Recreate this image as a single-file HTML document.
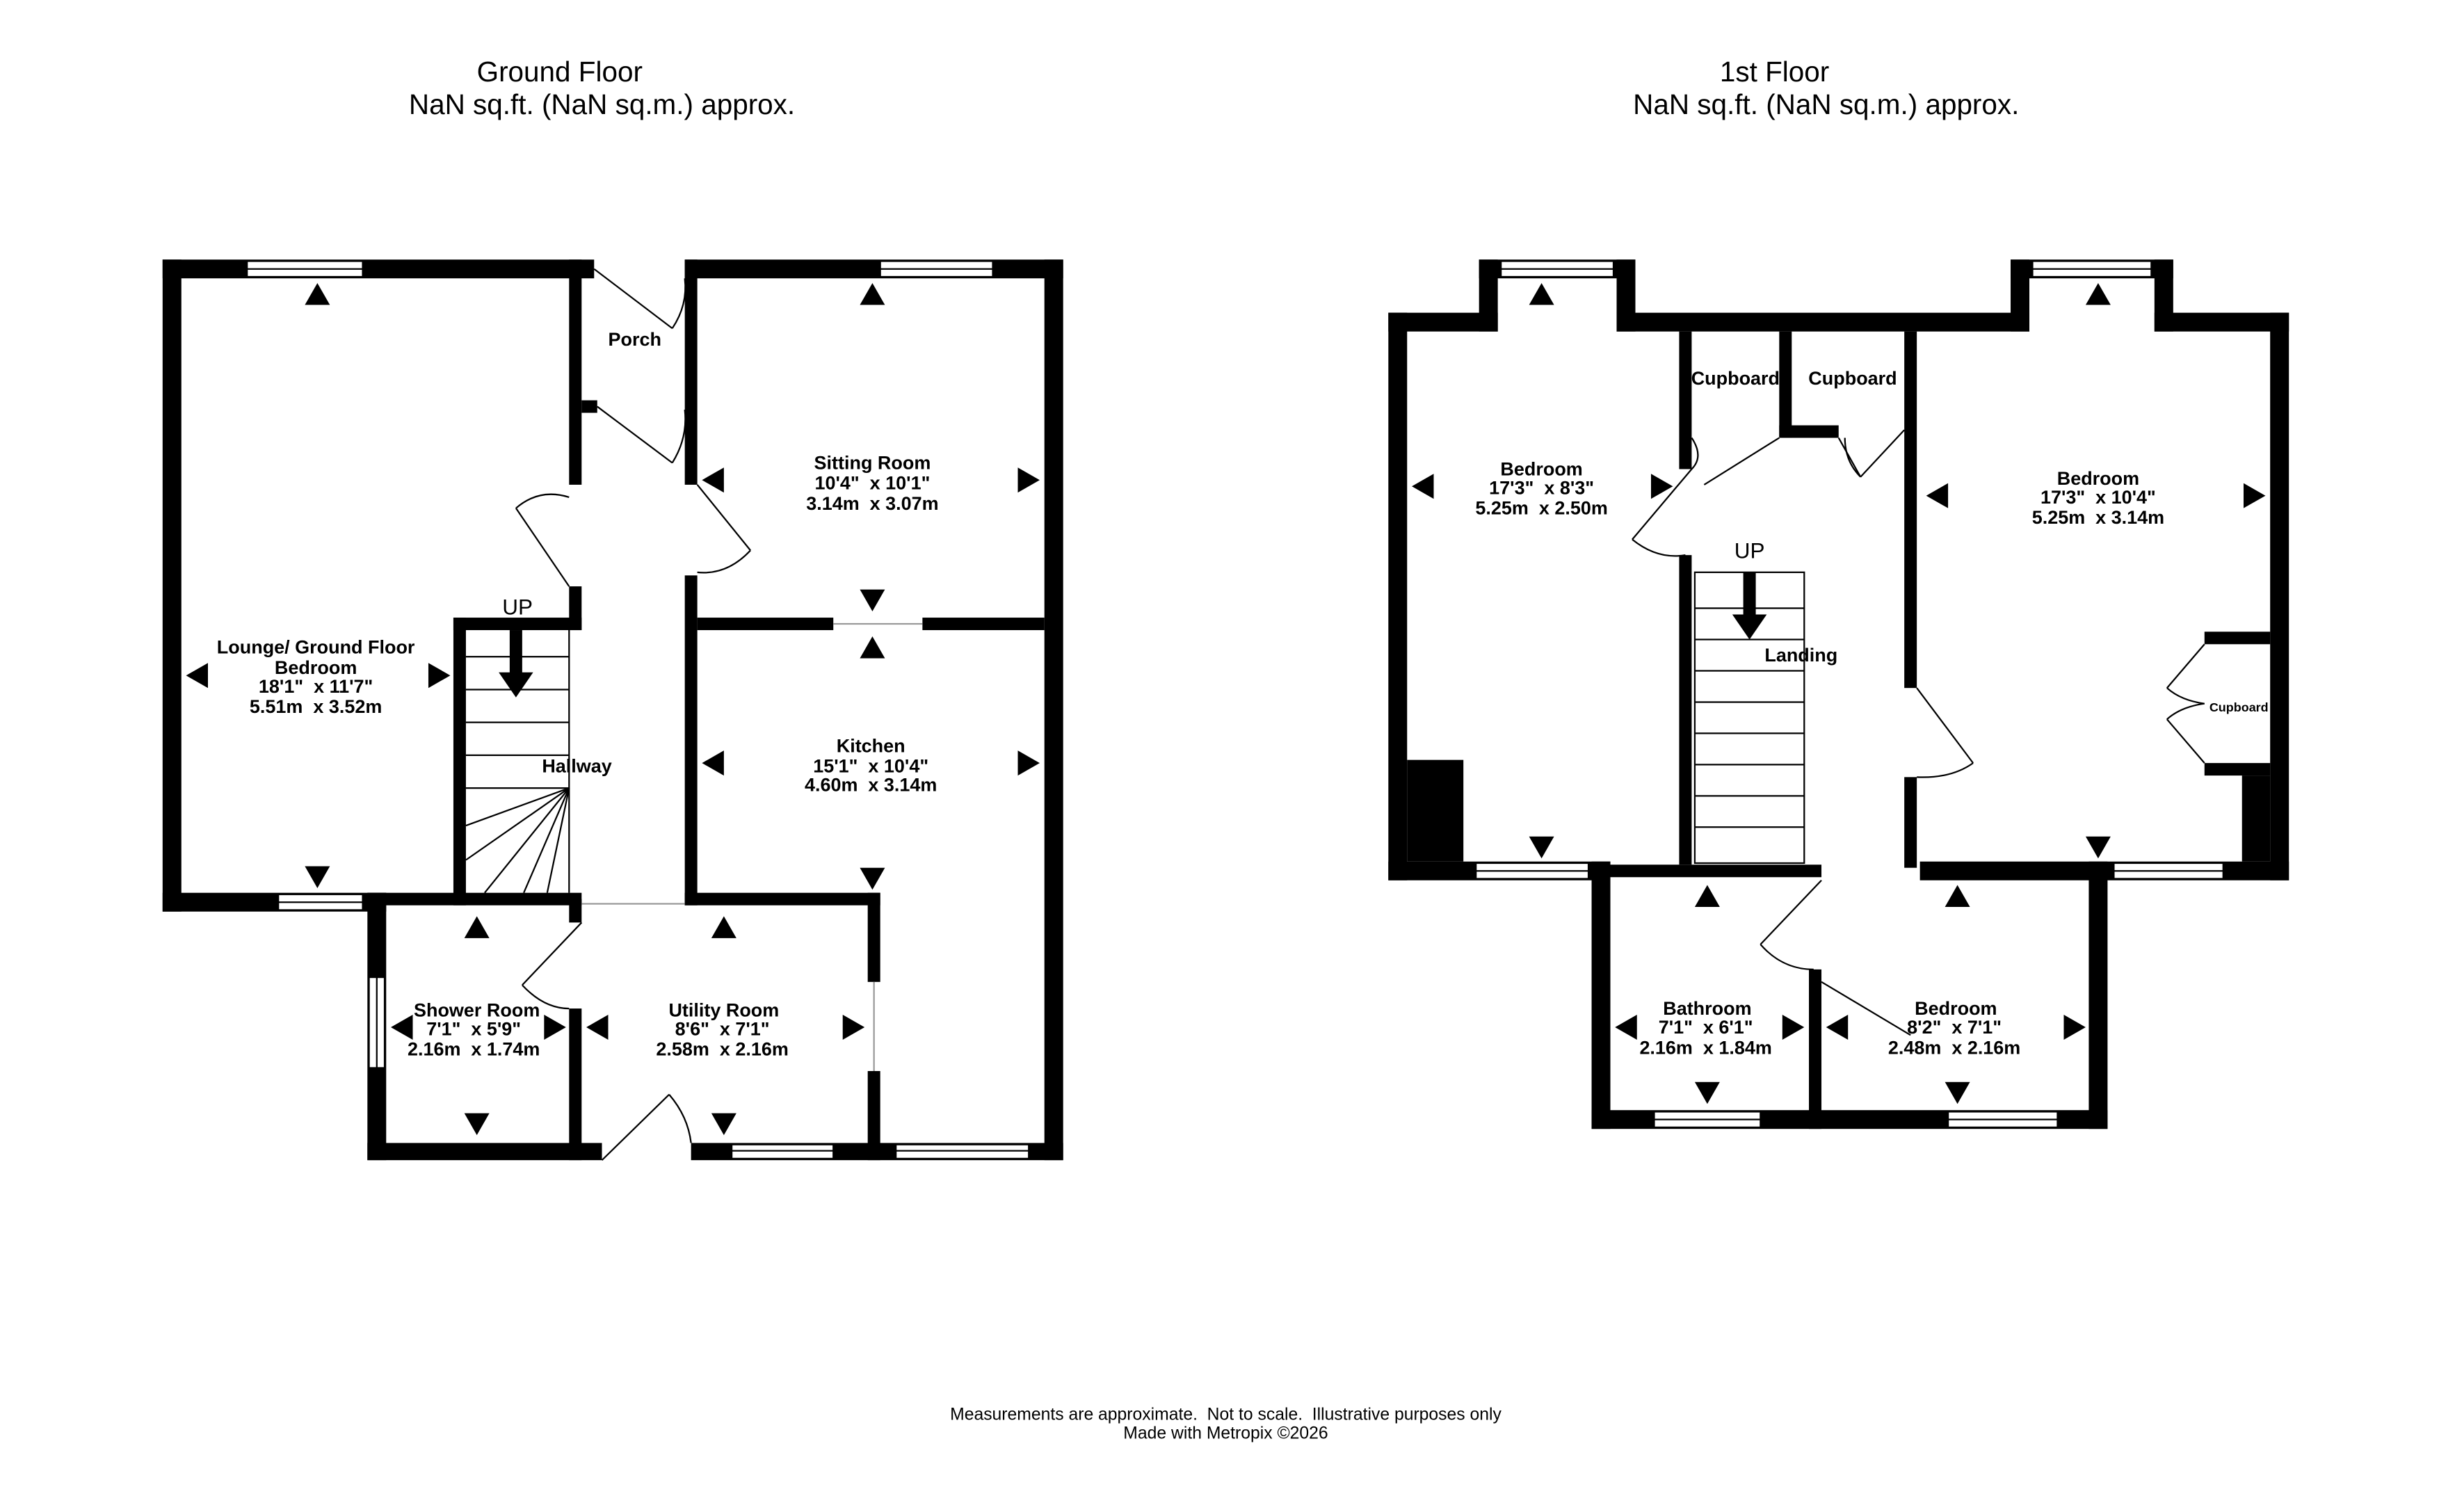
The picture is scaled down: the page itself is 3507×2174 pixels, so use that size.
<!DOCTYPE html>
<html><head><meta charset="utf-8"><style>
html,body{margin:0;padding:0;background:#fff;}
svg{display:block;}
text{font-family:"Liberation Sans",Arial,sans-serif;fill:#000;white-space:pre;}
.b{font-weight:bold;font-size:12px;}
</style></head><body>
<svg width="3507" height="2174" viewBox="0 0 1560 967" xmlns="http://www.w3.org/2000/svg" xml:space="preserve">
<rect width="1560" height="967" fill="#fff"/>
<g text-anchor="middle">
<text x="358" y="52" font-size="18">Ground Floor</text>
<text x="385" y="73" font-size="18">NaN sq.ft. (NaN sq.m.) approx.</text>
<text x="1135" y="52" font-size="18">1st Floor</text>
<text x="1168" y="73" font-size="18">NaN sq.ft. (NaN sq.m.) approx.</text>
<text x="784" y="908" font-size="11">Measurements are approximate.  Not to scale.  Illustrative purposes only</text>
<text x="784" y="920" font-size="11">Made with Metropix ©2026</text>
</g>
<g fill="#000">
<rect x="104" y="166" width="276" height="12"/>
<rect x="104" y="166" width="12" height="417"/>
<rect x="104" y="571" width="143" height="12"/>
<rect x="364" y="166" width="8" height="144"/>
<rect x="372" y="256" width="10" height="8"/>
<rect x="364" y="375" width="8" height="28"/>
<rect x="290" y="395" width="82" height="8"/>
<rect x="290" y="395" width="8" height="184"/>
<rect x="235" y="571" width="137" height="8"/>
<rect x="438" y="166" width="242" height="12"/>
<rect x="438" y="166" width="8" height="144"/>
<rect x="438" y="368" width="8" height="211"/>
<rect x="668" y="166" width="12" height="576"/>
<rect x="446" y="395" width="87" height="8"/>
<rect x="590" y="395" width="78" height="8"/>
<rect x="438" y="571" width="125" height="8"/>
<rect x="555" y="571" width="8" height="57"/>
<rect x="555" y="685" width="8" height="57"/>
<rect x="442" y="731" width="238" height="11"/>
<rect x="235" y="571" width="12" height="171"/>
<rect x="235" y="731" width="150" height="11"/>
<rect x="364" y="575" width="8" height="15"/>
<rect x="364" y="645" width="8" height="97"/>
</g>
<g fill="#fff" stroke="#000" stroke-width="1">
<rect x="158" y="167" width="74" height="10"/>
<rect x="178" y="572" width="54" height="10"/>
<rect x="563" y="167" width="72" height="10"/>
<rect x="468" y="732" width="65" height="9"/>
<rect x="573" y="732" width="85" height="9"/>
<rect x="236" y="625" width="10" height="58"/>
</g>
<g stroke="#000" stroke-width="1" fill="none">
<line x1="158" y1="172" x2="232" y2="172"/><line x1="178" y1="577" x2="232" y2="577"/>
<line x1="563" y1="172" x2="635" y2="172"/><line x1="468" y1="736" x2="533" y2="736"/>
<line x1="573" y1="736" x2="658" y2="736"/><line x1="241" y1="625" x2="241" y2="683"/>
<line x1="372" y1="578" x2="438" y2="578" stroke="#999"/>
<line x1="533" y1="399" x2="590" y2="399" stroke="#999"/>
<line x1="559" y1="628" x2="559" y2="685" stroke="#999"/>
<line x1="380" y1="172" x2="430" y2="210"/><path d="M430 210 Q440 195 438 178"/>
<line x1="382" y1="260" x2="430" y2="296"/><path d="M430 296 Q440 280 438 262"/>
<line x1="364" y1="375" x2="330" y2="325"/><path d="M330 325 Q345 312 364 318"/>
<line x1="446" y1="310" x2="480" y2="352"/><path d="M480 352 Q465 368 446 366"/>
<line x1="372" y1="590" x2="334" y2="630"/><path d="M334 630 Q348 645 364 645"/>
<line x1="385" y1="742" x2="428" y2="700"/><path d="M428 700 Q440 714 442 731"/>
<line x1="298" y1="420" x2="364" y2="420"/><line x1="298" y1="441" x2="364" y2="441"/>
<line x1="298" y1="462" x2="364" y2="462"/><line x1="298" y1="483" x2="364" y2="483"/>
<line x1="298" y1="504" x2="364" y2="504"/><line x1="364" y1="403" x2="364" y2="571"/>
<line x1="364" y1="504" x2="298" y2="550"/><line x1="364" y1="504" x2="310" y2="571"/>
<line x1="364" y1="504" x2="335" y2="571"/><line x1="364" y1="504" x2="350" y2="571"/>
<line x1="364" y1="504" x2="298" y2="528"/>
<line x1="1082" y1="300" x2="1044" y2="345"/><path d="M1044 345 Q1060 358 1078 355"/>
<path d="M1082 300 Q1090 292 1082 280"/>
<line x1="1138" y1="280" x2="1090" y2="310"/>
<line x1="1176" y1="280" x2="1190" y2="305"/><line x1="1218" y1="275" x2="1190" y2="305"/><path d="M1190 305 Q1180 295 1180 280"/>
<line x1="1226" y1="440" x2="1262" y2="488"/><path d="M1262 488 Q1248 498 1226 497"/>
<line x1="1165" y1="563" x2="1126" y2="604"/><path d="M1126 604 Q1140 620 1160 620"/>
<line x1="1165" y1="628" x2="1222" y2="662"/>
<line x1="1410" y1="412" x2="1386" y2="440"/><path d="M1386 440 Q1395 448 1410 450"/>
<line x1="1410" y1="488" x2="1386" y2="460"/><path d="M1386 460 Q1395 452 1410 450"/>
<rect x="1084" y="366" width="70" height="186"/>
<line x1="1084" y1="389" x2="1154" y2="389"/><line x1="1084" y1="409" x2="1154" y2="409"/>
<line x1="1084" y1="429" x2="1154" y2="429"/><line x1="1084" y1="449" x2="1154" y2="449"/>
<line x1="1084" y1="469" x2="1154" y2="469"/><line x1="1084" y1="489" x2="1154" y2="489"/>
<line x1="1084" y1="509" x2="1154" y2="509"/><line x1="1084" y1="529" x2="1154" y2="529"/>
</g>
<g fill="#000">
<rect x="946" y="166" width="100" height="12"/>
<rect x="946" y="166" width="12" height="46"/>
<rect x="1034" y="166" width="12" height="46"/>
<rect x="1034" y="200" width="264" height="12"/>
<rect x="1286" y="166" width="104" height="12"/>
<rect x="1286" y="166" width="12" height="46"/>
<rect x="1378" y="166" width="12" height="46"/>
<rect x="1378" y="200" width="86" height="12"/>
<rect x="1452" y="200" width="12" height="363"/>
<rect x="888" y="200" width="70" height="12"/>
<rect x="888" y="200" width="12" height="363"/>
<rect x="888" y="551" width="142" height="12"/>
<rect x="900" y="486" width="36" height="65"/>
<rect x="1018" y="551" width="12" height="171"/>
<rect x="1018" y="710" width="330" height="12"/>
<rect x="1336" y="551" width="12" height="171"/>
<rect x="1018" y="553" width="147" height="8"/>
<rect x="1228" y="551" width="236" height="12"/>
<rect x="1074" y="212" width="8" height="88"/>
<rect x="1074" y="355" width="8" height="198"/>
<rect x="1138" y="212" width="8" height="68"/>
<rect x="1138" y="272" width="38" height="8"/>
<rect x="1218" y="212" width="8" height="228"/>
<rect x="1218" y="497" width="8" height="58"/>
<rect x="1410" y="404" width="42" height="8"/>
<rect x="1410" y="488" width="42" height="8"/>
<rect x="1434" y="496" width="18" height="55"/>
<rect x="1157" y="620" width="8" height="102"/>
</g>
<g fill="#fff" stroke="#000" stroke-width="1">
<rect x="960" y="167" width="72" height="10"/>
<rect x="1300" y="167" width="76" height="10"/>
<rect x="944" y="552" width="72" height="10"/>
<rect x="1352" y="552" width="70" height="10"/>
<rect x="1058" y="711" width="68" height="10"/>
<rect x="1246" y="711" width="70" height="10"/>
</g>
<g stroke="#000" stroke-width="1">
<line x1="960" y1="172" x2="1032" y2="172"/><line x1="1300" y1="172" x2="1376" y2="172"/>
<line x1="944" y1="557" x2="1016" y2="557"/><line x1="1352" y1="557" x2="1422" y2="557"/>
<line x1="1058" y1="716" x2="1126" y2="716"/><line x1="1246" y1="716" x2="1316" y2="716"/>
</g>
<g fill="#000">
<rect x="326" y="403" width="8" height="30"/><polygon points="319,430 341,430 330,446"/>
<rect x="1115" y="366" width="8" height="30"/><polygon points="1108,393 1130,393 1119,409"/>
</g>
<g fill="#000">
<polygon points="195,195 211,195 203,181"/>
<polygon points="195,554 211,554 203,568"/>
<polygon points="119,432 133,424 133,440"/>
<polygon points="288,432 274,424 274,440"/>
<polygon points="550,195 566,195 558,181"/>
<polygon points="449,307 463,299 463,315"/>
<polygon points="665,307 651,299 651,315"/>
<polygon points="550,377 566,377 558,391"/>
<polygon points="550,421 566,421 558,407"/>
<polygon points="449,488 463,480 463,496"/>
<polygon points="665,488 651,480 651,496"/>
<polygon points="550,555 566,555 558,569"/>
<polygon points="297,600 313,600 305,586"/>
<polygon points="297,712 313,712 305,726"/>
<polygon points="250,657 264,649 264,665"/>
<polygon points="362,657 348,649 348,665"/>
<polygon points="455,600 471,600 463,586"/>
<polygon points="455,712 471,712 463,726"/>
<polygon points="375,657 389,649 389,665"/>
<polygon points="553,657 539,649 539,665"/>
<polygon points="978,195 994,195 986,181"/>
<polygon points="978,535 994,535 986,549"/>
<polygon points="903,311 917,303 917,319"/>
<polygon points="1070,311 1056,303 1056,319"/>
<polygon points="1334,195 1350,195 1342,181"/>
<polygon points="1334,535 1350,535 1342,549"/>
<polygon points="1232,317 1246,309 1246,325"/>
<polygon points="1449,317 1435,309 1435,325"/>
<polygon points="1084,580 1100,580 1092,566"/>
<polygon points="1084,692 1100,692 1092,706"/>
<polygon points="1033,657 1047,649 1047,665"/>
<polygon points="1154,657 1140,649 1140,665"/>
<polygon points="1244,580 1260,580 1252,566"/>
<polygon points="1244,692 1260,692 1252,706"/>
<polygon points="1168,657 1182,649 1182,665"/>
<polygon points="1334,657 1320,649 1320,665"/>
</g>
<g text-anchor="middle">
<text x="406" y="221" class="b">Porch</text>
<text x="558" y="300" class="b">Sitting Room</text>
<text x="558" y="313" class="b">10'4"  x 10'1"</text>
<text x="558" y="326" class="b">3.14m  x 3.07m</text>
<text x="202" y="418" class="b">Lounge/ Ground Floor</text>
<text x="202" y="431" class="b">Bedroom</text>
<text x="202" y="443" class="b">18'1"  x 11'7"</text>
<text x="202" y="456" class="b">5.51m  x 3.52m</text>
<text x="331" y="393" font-size="14">UP</text>
<text x="369" y="494" class="b">Hallway</text>
<text x="557" y="481" class="b">Kitchen</text>
<text x="557" y="494" class="b">15'1"  x 10'4"</text>
<text x="557" y="506" class="b">4.60m  x 3.14m</text>
<text x="305" y="650" class="b">Shower Room</text>
<text x="303" y="662" class="b">7'1"  x 5'9"</text>
<text x="303" y="675" class="b">2.16m  x 1.74m</text>
<text x="463" y="650" class="b">Utility Room</text>
<text x="462" y="662" class="b">8'6"  x 7'1"</text>
<text x="462" y="675" class="b">2.58m  x 2.16m</text>
<text x="986" y="304" class="b">Bedroom</text>
<text x="986" y="316" class="b">17'3"  x 8'3"</text>
<text x="986" y="329" class="b">5.25m  x 2.50m</text>
<text x="1110" y="246" class="b">Cupboard</text>
<text x="1185" y="246" class="b">Cupboard</text>
<text x="1119" y="357" font-size="14">UP</text>
<text x="1152" y="423" class="b">Landing</text>
<text x="1342" y="310" class="b">Bedroom</text>
<text x="1342" y="322" class="b">17'3"  x 10'4"</text>
<text x="1342" y="335" class="b">5.25m  x 3.14m</text>
<text x="1432" y="455" font-size="8" font-weight="bold">Cupboard</text>
<text x="1092" y="649" class="b">Bathroom</text>
<text x="1091" y="661" class="b">7'1"  x 6'1"</text>
<text x="1091" y="674" class="b">2.16m  x 1.84m</text>
<text x="1251" y="649" class="b">Bedroom</text>
<text x="1250" y="661" class="b">8'2"  x 7'1"</text>
<text x="1250" y="674" class="b">2.48m  x 2.16m</text>
</g>
</svg>
</body></html>
